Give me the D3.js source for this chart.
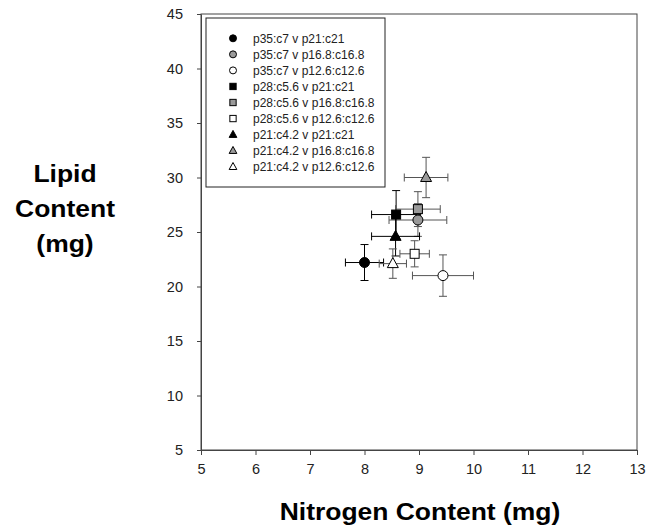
<!DOCTYPE html>
<html>
<head>
<meta charset="utf-8">
<script src="https://cdn.jsdelivr.net/npm/d3@7"></script>
<style>
  body { margin: 0; background: #fff; }
  text { font-family: Arial, "Liberation Sans", sans-serif; }
</style>
</head>
<body>
<svg id="chart" width="657" height="527"></svg>
<script>
// series, in legend order
const seriesNames = [
  'p35:c7 v p21:c21', 'p35:c7 v p16.8:c16.8', 'p35:c7 v p12.6:c12.6',
  'p28:c5.6 v p21:c21', 'p28:c5.6 v p16.8:c16.8', 'p28:c5.6 v p12.6:c12.6',
  'p21:c4.2 v p21:c21', 'p21:c4.2 v p16.8:c16.8', 'p21:c4.2 v p12.6:c12.6'
];
const nitrogen    = [8.0, 8.98, 9.44, 8.58, 8.98, 8.92, 8.57, 9.13, 8.52];
const lipid       = [22.2, 26.1, 21.0, 26.6, 27.1, 23.0, 24.6, 30.0, 22.1];
const nitrogenErr = [0.35, 0.53, 0.56, 0.45, 0.41, 0.27, 0.44, 0.40, 0.25];
const lipidErr    = [1.65, 1.5, 1.9, 2.2, 1.6, 1.2, 1.8, 1.85, 1.35];
const shapes      = ['circle', 'circle', 'circle', 'square', 'square', 'square', 'triangle', 'triangle', 'triangle'];
const fills       = ['black', 'gray', 'white', 'black', 'gray', 'white', 'black', 'gray', 'white'];

const xTicks = [5, 6, 7, 8, 9, 10, 11, 12, 13];
const yTicks = [5, 10, 15, 20, 25, 30, 35, 40, 45];

const FILL_COLOR = { black: '#000', gray: '#9a9a9a', white: '#fff' };
const BAR_COLOR = { black: '#000', gray: '#555', white: '#555' };

// the scanned figure's lettering runs a bit wider than Arial
const STRETCH = 1.15;

const svg = d3.select('#chart');
const plot = { left: 201, right: 637, top: 14, bottom: 450 };

const x = d3.scaleLinear().domain([5, 13]).range([plot.left, plot.right]);
const y = d3.scaleLinear().domain([5, 45]).range([plot.bottom, plot.top]);

function stretch(sel, factor) {
  sel.each(function() {
    let w = this.getComputedTextLength();
    d3.select(this).attr('textLength', w * factor).attr('lengthAdjust', 'spacingAndGlyphs');
  });
}

// frame
svg.append('rect')
  .attr('x', plot.left).attr('y', plot.top)
  .attr('width', plot.right - plot.left).attr('height', plot.bottom - plot.top)
  .attr('fill', 'none').attr('stroke', '#444').attr('stroke-width', 1);

// axes
let xAxis = svg.append('g')
  .attr('transform', `translate(0,${plot.bottom})`)
  .call(d3.axisBottom(x).tickValues(xTicks).tickSize(5).tickPadding(6).tickSizeOuter(0));
let yAxis = svg.append('g')
  .attr('transform', `translate(${plot.left},0)`)
  .call(d3.axisLeft(y).tickValues(yTicks).tickSize(4).tickPadding(14).tickSizeOuter(0));

[xAxis, yAxis].forEach(a => {
  a.select('.domain').attr('stroke', '#444');
  a.selectAll('.tick line').attr('stroke', '#444');
  a.selectAll('.tick text').attr('font-size', 14.5).attr('fill', '#222')
    .attr('font-family', 'Arial, "Liberation Sans", sans-serif');
});
xAxis.selectAll('.tick text').attr('dy', '0.9em');

// axis titles
let xTitle = svg.append('text')
  .attr('x', 420).attr('y', 520)
  .attr('text-anchor', 'middle')
  .attr('font-size', 23).attr('font-weight', 'bold')
  .text('Nitrogen Content (mg)');
stretch(xTitle, STRETCH);

['Lipid', 'Content', '(mg)'].forEach((line, i) => {
  let t = svg.append('text')
    .attr('x', 65).attr('y', 182 + i * 35)
    .attr('text-anchor', 'middle')
    .attr('font-size', 23).attr('font-weight', 'bold')
    .text(line);
  stretch(t, STRETCH);
});

// marker drawing
function drawMarker(g, shape, fill, cx, cy, size) {
  let fc = FILL_COLOR[fill];
  let s = size;
  if (shape === 'circle') {
    g.append('circle').attr('cx', cx).attr('cy', cy).attr('r', s)
      .attr('fill', fc).attr('stroke', '#000').attr('stroke-width', 1);
  } else if (shape === 'square') {
    g.append('rect').attr('x', cx - s * 0.9).attr('y', cy - s * 0.9)
      .attr('width', s * 1.8).attr('height', s * 1.8)
      .attr('fill', fc).attr('stroke', '#000').attr('stroke-width', 1);
  } else {
    g.append('path')
      .attr('d', `M${cx},${cy - s * 1.2}L${cx + s * 1.1},${cy + s * 0.8}L${cx - s * 1.1},${cy + s * 0.8}Z`)
      .attr('fill', fc).attr('stroke', '#000').attr('stroke-width', 1);
  }
}

// error bars then markers
const pts = svg.append('g');
const capSize = 4;
seriesNames.forEach((name, i) => {
  let cx = x(nitrogen[i]), cy = y(lipid[i]);
  let x0 = x(nitrogen[i] - nitrogenErr[i]), x1 = x(nitrogen[i] + nitrogenErr[i]);
  let y0 = y(lipid[i] - lipidErr[i]), y1 = y(lipid[i] + lipidErr[i]);
  let c = BAR_COLOR[fills[i]];
  let bars = pts.append('g').attr('stroke', c).attr('stroke-width', 1);
  bars.append('line').attr('x1', x0).attr('x2', x1).attr('y1', cy).attr('y2', cy);
  bars.append('line').attr('x1', cx).attr('x2', cx).attr('y1', y0).attr('y2', y1);
  [x0, x1].forEach(xv => bars.append('line').attr('x1', xv).attr('x2', xv)
    .attr('y1', cy - capSize).attr('y2', cy + capSize));
  [y0, y1].forEach(yv => bars.append('line').attr('y1', yv).attr('y2', yv)
    .attr('x1', cx - capSize).attr('x2', cx + capSize));
});
seriesNames.forEach((name, i) => {
  drawMarker(pts, shapes[i], fills[i], x(nitrogen[i]), y(lipid[i]), 5);
});

// legend
const legend = svg.append('g');
legend.append('rect')
  .attr('x', 206).attr('y', 18).attr('width', 179).attr('height', 169)
  .attr('fill', '#fff').attr('stroke', '#222').attr('stroke-width', 1);
seriesNames.forEach((name, i) => {
  let ly = 38.3 + i * 16.05;
  drawMarker(legend, shapes[i], fills[i], 233, ly, 3.5);
  legend.append('text')
    .attr('x', 253).attr('y', ly + 4.3)
    .attr('font-size', 12).attr('fill', '#222')
    .text(name);
});
</script>
</body>
</html>
